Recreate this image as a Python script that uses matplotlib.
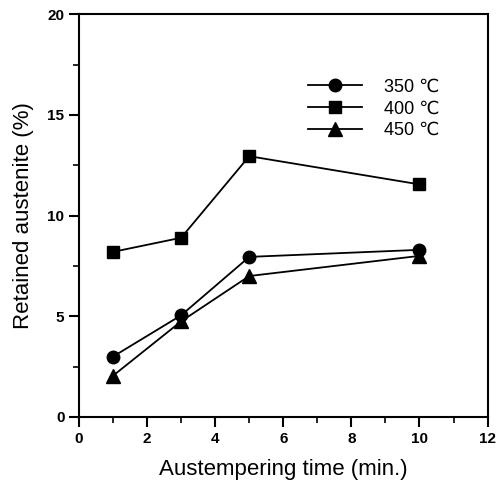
import matplotlib
matplotlib.use('Agg')
import matplotlib.pyplot as plt
from matplotlib.ticker import MultipleLocator

plt.rcParams['font.family'] = ['Liberation Sans', 'DejaVu Sans']

# austempering time (min.)
time = [1, 3, 5, 10]
# retained austenite (%)
ra_350 = [3.0, 5.05, 7.95, 8.3]
ra_400 = [8.2, 8.9, 12.95, 11.55]
ra_450 = [2.05, 4.75, 7.0, 8.0]
labels = ['350 \u2103', '400 \u2103', '450 \u2103']

fig = plt.figure(figsize=(4.97, 4.90), dpi=100)
ax = fig.add_axes([0.159, 0.149, 0.822, 0.822])

ax.plot(time, ra_350, 'k-', marker='o', ms=9, lw=1.3, label=labels[0])
ax.plot(time, ra_400, 'k-', marker='s', ms=9, lw=1.3, label=labels[1])
ax.plot(time, ra_450, 'k-', marker='^', ms=9.5, lw=1.3, label=labels[2])

ax.set_xlim(0, 12)
ax.set_ylim(0, 20)
ax.xaxis.set_major_locator(MultipleLocator(2))
ax.xaxis.set_minor_locator(MultipleLocator(1))
ax.yaxis.set_major_locator(MultipleLocator(5))
ax.yaxis.set_minor_locator(MultipleLocator(2.5))
ax.tick_params(which='major', direction='out', length=7, width=1.5)
ax.tick_params(which='minor', direction='out', length=4, width=1.2)
for lab in ax.get_xticklabels() + ax.get_yticklabels():
    lab.set_fontsize(11)
    lab.set_fontweight('bold')
for s in ax.spines.values():
    s.set_linewidth(1.5)

ax.set_xlabel('Austempering time (min.)', fontsize=16, labelpad=10)
ax.set_ylabel('Retained austenite (%)', fontsize=16, labelpad=10)

leg = ax.legend(loc='upper left', bbox_to_anchor=(0.52, 0.88), frameon=False,
                fontsize=13, handlelength=3.0, handletextpad=1.2,
                labelspacing=0.25)

plt.savefig('out.png', dpi=100)
